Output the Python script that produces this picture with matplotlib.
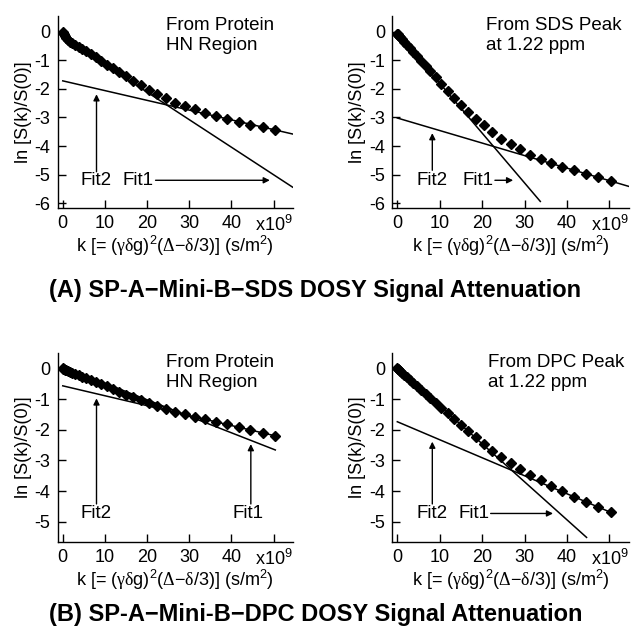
import matplotlib
matplotlib.use('Agg')
import matplotlib.pyplot as plt

plt.rcParams['font.family'] = ['Liberation Sans', 'DejaVu Sans']
plt.rcParams['mathtext.fontset'] = 'custom'
plt.rcParams['mathtext.rm'] = 'Liberation Serif'
plt.rcParams['mathtext.it'] = 'Liberation Serif:italic'
plt.rcParams['mathtext.default'] = 'regular'
plt.rcParams['axes.unicode_minus'] = False

# diffusion weighting k (x10^9 s/m^2), same gradient steps in every panel
k_vals = [0, 0.05, 0.18, 0.42, 0.74, 1.16, 1.67, 2.27, 2.96, 3.75, 4.63, 5.6,
          6.67, 7.8, 9.07, 10.4, 11.85, 13.4, 15.0, 16.7, 18.5, 20.4, 22.4,
          24.5, 26.7, 28.9, 31.3, 33.8, 36.3, 38.9, 41.7, 44.5, 47.4, 50.4]

# ln[S(k)/S(0)]
sds_protein = [0, -0.03, -0.08, -0.15, -0.22, -0.29, -0.35, -0.41, -0.46, -0.52,
               -0.6, -0.69, -0.79, -0.9, -1.02, -1.15, -1.28, -1.42, -1.56, -1.71,
               -1.87, -2.03, -2.18, -2.33, -2.48, -2.6, -2.71, -2.84, -2.96, -3.06,
               -3.15, -3.25, -3.33, -3.43]
sds_peak = [-0.08, -0.09, -0.11, -0.15, -0.2, -0.27, -0.36, -0.46, -0.58, -0.71,
            -0.86, -1.02, -1.2, -1.38, -1.58, -1.83, -2.08, -2.33, -2.58, -2.82,
            -3.05, -3.28, -3.52, -3.74, -3.94, -4.12, -4.3, -4.47, -4.6, -4.73,
            -4.85, -4.97, -5.1, -5.23]
dpc_protein = [0, -0.01, -0.02, -0.04, -0.06, -0.08, -0.11, -0.14, -0.18, -0.22,
               -0.27, -0.33, -0.39, -0.45, -0.52, -0.59, -0.67, -0.76, -0.86, -0.95,
               -1.04, -1.13, -1.23, -1.32, -1.41, -1.49, -1.57, -1.65, -1.74, -1.83,
               -1.91, -2.0, -2.1, -2.21]
dpc_peak = [0, -0.01, -0.03, -0.06, -0.1, -0.15, -0.21, -0.29, -0.37, -0.47,
            -0.58, -0.7, -0.83, -0.97, -1.12, -1.29, -1.46, -1.65, -1.85, -2.05,
            -2.25, -2.47, -2.68, -2.88, -3.08, -3.27, -3.46, -3.65, -3.84, -4.0,
            -4.18, -4.35, -4.51, -4.68]

# fit lines as (k start, k end) and (y start, y end)
fits = {
    'A': {'fit1': ([2.0, 54.5], [-0.38, -5.44]), 'fit2': ([0, 54.5], [-1.72, -3.58])},
    'B': {'fit1': ([0, 33.7], [-0.06, -5.94]), 'fit2': ([0, 54.7], [-3.02, -5.42])},
    'C': {'fit1': ([0, 50.4], [0.05, -2.66]), 'fit2': ([0, 50.4], [-0.57, -2.2])},
    'D': {'fit1': ([0, 44.6], [0.02, -5.51]), 'fit2': ([0, 50.4], [-1.74, -4.7])},
}

notes = {'A': 'From Protein\nHN Region', 'B': 'From SDS Peak\nat 1.22 ppm',
         'C': 'From Protein\nHN Region', 'D': 'From DPC Peak\nat 1.22 ppm'}
note_x = {'A': 24.5, 'B': 21.0, 'C': 24.5, 'D': 21.4}

x_ticks = [0, 10, 20, 30, 40, 50]
x_ticklabels = ['0', '10', '20', '30', '40', 'x10$^9$']

W, H = 632, 631
fig = plt.figure(figsize=(W / 100, H / 100), dpi=100)


def make_axes(left, top, right, bottom):
    return fig.add_axes([left / W, 1 - bottom / H, (right - left) / W, (bottom - top) / H])


axA = make_axes(57.5, 16, 293, 208)
axB = make_axes(392, 16, 629, 208)
axC = make_axes(57.5, 353, 293, 542)
axD = make_axes(392, 353, 629, 542)

panels = [('A', axA, sds_protein, (-6.17, 0.55), range(-6, 1)),
          ('B', axB, sds_peak, (-6.17, 0.55), range(-6, 1)),
          ('C', axC, dpc_protein, (-5.66, 0.5), range(-5, 1)),
          ('D', axD, dpc_peak, (-5.66, 0.5), range(-5, 1))]

xlabel = (r'k [= ($\mathrm{\gamma\delta}$g)$^2$($\mathrm{\Delta}$' + '\u2212' +
          r'$\mathrm{\delta}$/3)] (s/m$^2$)')

for name, ax, yvals, ylim, yticks in panels:
    for fk, fy in fits[name].values():
        ax.plot(fk, fy, color='black', lw=1.1, zorder=2)
    ax.plot(k_vals, yvals, linestyle='none', marker='D', ms=4.8,
            color='black', zorder=3)
    ax.set_xlim(-1.25, 54.6)
    ax.set_ylim(*ylim)
    ax.set_xticks(x_ticks)
    ax.set_xticklabels(x_ticklabels)
    ax.set_yticks(list(yticks))
    ax.tick_params(direction='in', length=6, width=1, labelsize=13, pad=5)
    for side in ['top', 'right']:
        ax.spines[side].set_visible(False)
    for side in ['left', 'bottom']:
        ax.spines[side].set_linewidth(1.0)
    ax.set_ylabel('ln [S(k)/S(0)]', fontsize=13, labelpad=2)
    ax.set_xlabel(xlabel, fontsize=13, labelpad=-1)
    ax.text(note_x[name], ylim[1] - 0.03, notes[name], fontsize=13.5,
            ha='left', va='top', linespacing=1.25)

arrow = dict(arrowstyle='-|>', color='black', lw=1.0, mutation_scale=9,
             shrinkA=0, shrinkB=0)

# panel A labels
axA.text(7.85, -5.2, 'Fit2', fontsize=13.5, ha='center', va='center')
axA.text(17.8, -5.2, 'Fit1', fontsize=13.5, ha='center', va='center')
axA.annotate('', xy=(8, -2.19), xytext=(8, -4.9), arrowprops=arrow)
axA.annotate('', xy=(49.1, -5.2), xytext=(22.0, -5.2), arrowprops=arrow)

# panel B labels
axB.text(8.1, -5.2, 'Fit2', fontsize=13.5, ha='center', va='center')
axB.text(19.0, -5.2, 'Fit1', fontsize=13.5, ha='center', va='center')
axB.annotate('', xy=(8.25, -3.55), xytext=(8.25, -4.85), arrowprops=arrow)
axB.annotate('', xy=(27.3, -5.2), xytext=(23.0, -5.2), arrowprops=arrow)

# panel C labels
axC.text(7.85, -4.73, 'Fit2', fontsize=13.5, ha='center', va='center')
axC.text(43.9, -4.73, 'Fit1', fontsize=13.5, ha='center', va='center')
axC.annotate('', xy=(8, -0.98), xytext=(8, -4.42), arrowprops=arrow)
axC.annotate('', xy=(44.6, -2.47), xytext=(44.6, -4.42), arrowprops=arrow)

# panel D labels
axD.text(8.1, -4.73, 'Fit2', fontsize=13.5, ha='center', va='center')
axD.text(18.0, -4.73, 'Fit1', fontsize=13.5, ha='center', va='center')
axD.annotate('', xy=(8.25, -2.39), xytext=(8.25, -4.42), arrowprops=arrow)
axD.annotate('', xy=(36.7, -4.73), xytext=(22.0, -4.73), arrowprops=arrow)

fig.text(0.499, 1 - 291 / H, '(A) SP-A\u2212Mini-B\u2212SDS DOSY Signal Attenuation',
         fontsize=17, fontweight='bold', ha='center', va='center')
fig.text(0.499, 1 - 615 / H, '(B) SP-A\u2212Mini-B\u2212DPC DOSY Signal Attenuation',
         fontsize=17, fontweight='bold', ha='center', va='center')

fig.savefig('out.png', dpi=100)
